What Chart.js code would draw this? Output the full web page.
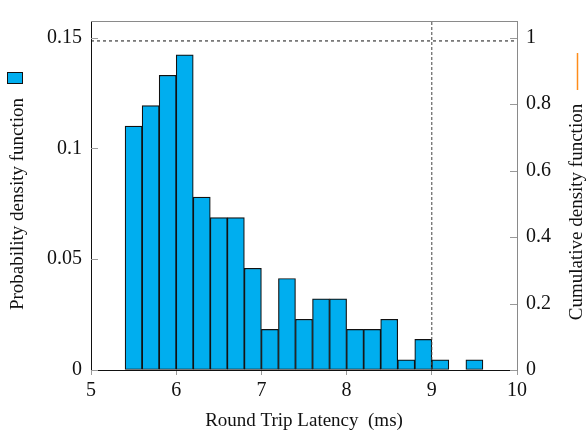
<!DOCTYPE html>
<html><head><meta charset="utf-8">
<script src="https://cdn.jsdelivr.net/npm/chart.js@4/dist/chart.umd.min.js"></script>
<style>html,body{margin:0;padding:0;background:#fff}#wrap{width:586px;height:434px}</style>
</head><body><div id="wrap"><canvas id="c" width="586" height="434"></canvas></div>
<script>
// ---- data ----
const binCenters = [5.5,5.7,5.9,6.1,6.3,6.5,6.7,6.9,7.1,7.3,7.5,7.7,7.9,8.1,8.3,8.5,8.7,8.9,9.1,9.3,9.5,9.7];
const pdfValues  = [0.1101,0.1193,0.1330,0.1422,0.0780,0.0688,0.0688,0.0459,0.0183,0.0413,0.0229,0.0321,0.0321,0.0183,0.0183,0.0229,0.0046,0.0138,0.0046,0,0.0046,0];
const xTicks   = [5,6,7,8,9,10];
const pdfTicks = [0,0.05,0.1,0.15];
const cdfTicks = [0,0.2,0.4,0.6,0.8,1];
const p99Latency = 9;
const p99Cdf = 0.99;
const xTitle = 'Round Trip Latency  (ms)';
const pdfTitle = 'Probability density function';
const cdfTitle = 'Cumulative density function';

const FONT = '"Liberation Serif", "Times New Roman", serif';
const barColor = '#00AEEF';
const cdfColor = '#FF8C1A';
const fmt = v => String(+Number(v).toFixed(4));

const decor = {
  id: 'decor',
  afterDraw(chart) {
    const {ctx, chartArea: a, scales} = chart;
    ctx.save();
    // top frame
    ctx.strokeStyle = '#8a8a8a'; ctx.lineWidth = 1;
    ctx.beginPath(); ctx.moveTo(a.left, a.top + 0.5); ctx.lineTo(a.right, a.top + 0.5); ctx.stroke();
    // inward ticks
    ctx.strokeStyle = '#9a9a9a';
    scales.y.ticks.forEach(t => {
      const py = Math.round(scales.y.getPixelForValue(t.value)) + 0.5;
      ctx.beginPath(); ctx.moveTo(a.left, py); ctx.lineTo(a.left + 7, py); ctx.stroke();
    });
    scales.y2.ticks.forEach(t => {
      const py = Math.round(scales.y2.getPixelForValue(t.value)) + 0.5;
      ctx.beginPath(); ctx.moveTo(a.right, py); ctx.lineTo(a.right - 7, py); ctx.stroke();
    });
    // titles
    ctx.fillStyle = '#111';
    ctx.font = '19px ' + FONT;
    ctx.textAlign = 'center'; ctx.textBaseline = 'middle';
    ctx.fillText(xTitle, (a.left + a.right) / 2, 421);
    ctx.save(); ctx.translate(18, 204); ctx.rotate(-Math.PI / 2); ctx.fillText(pdfTitle, 0, 0); ctx.restore();
    ctx.save(); ctx.translate(577, 212); ctx.rotate(-Math.PI / 2); ctx.fillText(cdfTitle, 0, 0); ctx.restore();
    // legend symbols
    ctx.fillStyle = barColor; ctx.strokeStyle = '#111'; ctx.lineWidth = 1;
    ctx.fillRect(7.5, 72.5, 15, 11); ctx.strokeRect(7.5, 72.5, 15, 11);
    ctx.strokeStyle = cdfColor; ctx.lineWidth = 1.5;
    ctx.beginPath(); ctx.moveTo(577.5, 53); ctx.lineTo(577.5, 90); ctx.stroke();
    ctx.restore();
  }
};

new Chart(document.getElementById('c'), {
  type: 'bar',
  data: {
    datasets: [
      {
        type: 'line', order: 0, yAxisID: 'y2',
        data: [{x: xTicks[0], y: p99Cdf}, {x: xTicks[xTicks.length - 1], y: p99Cdf}],
        borderColor: '#111', borderWidth: 1, borderDash: [3, 3], pointRadius: 0, fill: false
      },
      {
        type: 'line', order: 0, yAxisID: 'y2',
        data: [{x: p99Latency, y: 0}, {x: p99Latency, y: 1.05}],
        borderColor: '#444', borderWidth: 1, borderDash: [3, 2], pointRadius: 0, fill: false
      },
      {
        type: 'bar', order: 1, yAxisID: 'y',
        data: binCenters.map((c, i) => ({x: c, y: pdfValues[i]})),
        backgroundColor: barColor, borderColor: '#111', borderWidth: 1.2,
        barPercentage: 1, categoryPercentage: 1, borderSkipped: false
      }
    ]
  },
  options: {
    responsive: false, animation: false, devicePixelRatio: 1,
    layout: {padding: {top: 16, left: 0, right: 0, bottom: 0}},
    plugins: {legend: {display: false}, tooltip: {enabled: false}},
    scales: {
      x: {
        type: 'linear', min: 5, max: 10, offset: false,
        afterBuildTicks: s => { s.ticks = xTicks.map(v => ({value: v})); },
        afterFit: s => { s.height = 64; },
        grid: {offset: false, drawOnChartArea: false, drawTicks: true, tickLength: 5, color: '#9a9a9a'},
        border: {display: true, color: '#111', width: 1},
        ticks: {font: {family: FONT, size: 20}, color: '#111', padding: 4, maxRotation: 0, callback: fmt}
      },
      y: {
        type: 'linear', position: 'left', min: 0, max: 0.1575,
        afterBuildTicks: s => { s.ticks = pdfTicks.map(v => ({value: v})); },
        afterFit: s => { s.width = 91; },
        grid: {drawOnChartArea: false, drawTicks: false},
        border: {display: true, color: '#111', width: 1},
        ticks: {font: {family: FONT, size: 20}, color: '#111', padding: 9, callback: fmt}
      },
      y2: {
        type: 'linear', position: 'right', min: 0, max: 1.05,
        afterBuildTicks: s => { s.ticks = cdfTicks.map(v => ({value: v})); },
        afterFit: s => { s.width = 69; },
        grid: {drawOnChartArea: false, drawTicks: false},
        border: {display: true, color: '#8a8a8a', width: 1},
        ticks: {font: {family: FONT, size: 20}, color: '#111', padding: 9, callback: fmt}
      }
    }
  },
  plugins: [decor]
});
</script>
</body></html>
